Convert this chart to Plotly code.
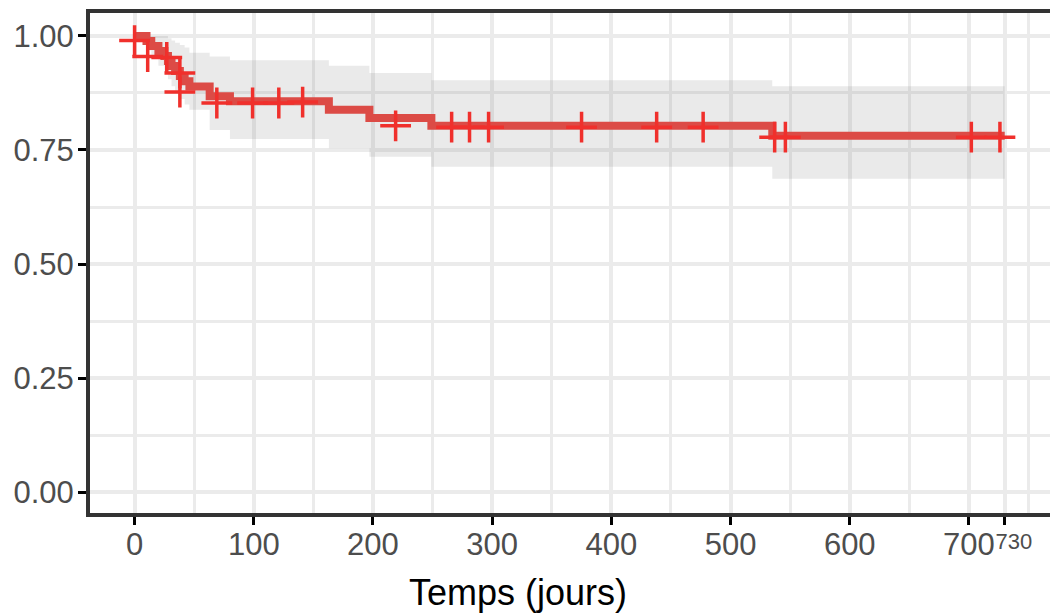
import plotly.graph_objects as go

# Kaplan-Meier step curve (time in days, survival probability)
km_time = [0, 10, 14, 20, 25, 28, 31, 34, 38, 42, 46, 63, 80, 163, 197, 249, 535, 730]
km_surv = [1.0, 0.989, 0.978, 0.967, 0.956, 0.945, 0.934, 0.923, 0.912, 0.901, 0.889,
           0.868, 0.857, 0.838, 0.820, 0.803, 0.781, 0.781]
# confidence band
ci_upper = [1.0, 1.0, 1.0, 1.0, 1.0, 0.995, 0.99, 0.985, 0.98, 0.975, 0.963,
            0.955, 0.947, 0.935, 0.919, 0.903, 0.89, 0.89]
ci_lower = [1.0, 0.968, 0.95, 0.935, 0.92, 0.905, 0.89, 0.875, 0.862, 0.85, 0.838,
            0.794, 0.774, 0.754, 0.735, 0.713, 0.687, 0.687]
# censored observations
cens_time = [0, 11, 27, 38, 38, 69, 99, 121, 141, 219, 266, 281, 297, 375, 438, 477, 537, 546, 702, 726]
cens_surv = [0.99, 0.955, 0.953, 0.919, 0.877, 0.853, 0.853, 0.853, 0.855, 0.803,
             0.80, 0.80, 0.80, 0.80, 0.80, 0.80, 0.778, 0.778, 0.778, 0.778]

x_tickvals = [0, 100, 200, 300, 400, 500, 600, 700, 730]
x_ticktext = ["0", "100", "200", "300", "400", "500", "600", "700",
              "<span style='font-size:22px;baseline-shift:6px'>\u00a0\u00a0\u00a0730</span>"]
y_tickvals = [0, 0.25, 0.5, 0.75, 1.0]
y_ticktext = ["0.00", "0.25", "0.50", "0.75", "1.00"]
x_title = "Temps (jours)"

fig = go.Figure()
fig.add_trace(go.Scatter(x=km_time, y=ci_upper, mode="lines", line=dict(width=0, shape="hv"),
                         hoverinfo="skip", showlegend=False))
fig.add_trace(go.Scatter(x=km_time, y=ci_lower, mode="lines", line=dict(width=0, shape="hv"),
                         fill="tonexty", fillcolor="rgba(128,128,128,0.17)",
                         hoverinfo="skip", showlegend=False))
fig.add_trace(go.Scatter(x=km_time, y=km_surv, mode="lines",
                         line=dict(color="#DC4B46", width=8, shape="hv"), showlegend=False))
fig.add_trace(go.Scatter(x=cens_time, y=cens_surv, mode="markers",
                         marker=dict(symbol="cross-thin", size=22,
                                     line=dict(color="#F0302C", width=3.5)),
                         showlegend=False))

axis_font = dict(family="Liberation Sans, Arial, sans-serif", size=31, color="#4D4D4D")
fig.update_xaxes(range=[-37.4, 768], tickvals=x_tickvals, ticktext=x_ticktext,
                 tickfont=axis_font, tickangle=0, automargin=False, ticklabelstandoff=-7,
                 showgrid=True, gridcolor="#EBEBEB", gridwidth=4,
                 minor=dict(showgrid=True, gridcolor="#EBEBEB", gridwidth=2.5, tick0=0, dtick=50),
                 showline=True, linecolor="#333333", linewidth=4, mirror=True,
                 ticks="outside", ticklen=8, tickwidth=3, tickcolor="#000000",
                 zeroline=False)
fig.update_yaxes(range=[-0.046, 1.0504], tickvals=y_tickvals, ticktext=y_ticktext,
                 tickfont=axis_font, automargin=False, ticklabelstandoff=-2,
                 showgrid=True, gridcolor="#EBEBEB", gridwidth=4,
                 minor=dict(showgrid=True, gridcolor="#EBEBEB", gridwidth=2.5, tick0=0, dtick=0.125),
                 showline=True, linecolor="#333333", linewidth=4, mirror=False,
                 ticks="outside", ticklen=8, tickwidth=3, tickcolor="#000000",
                 zeroline=False)
fig.add_annotation(text=x_title, xref="paper", yref="paper", x=0.446, y=-0.158,
                   xanchor="center", yanchor="middle", showarrow=False,
                   font=dict(family="Liberation Sans, Arial, sans-serif", size=36, color="#000000"))
fig.update_layout(width=1050, height=614, plot_bgcolor="white", paper_bgcolor="white",
                  margin=dict(l=90, r=0, t=13, b=101))
fig.write_html("out.html", config={"displayModeBar": False},
               post_script="document.body.style.margin='0';"
                           "document.documentElement.style.overflow='hidden';"
                           "document.body.style.overflow='hidden';")
